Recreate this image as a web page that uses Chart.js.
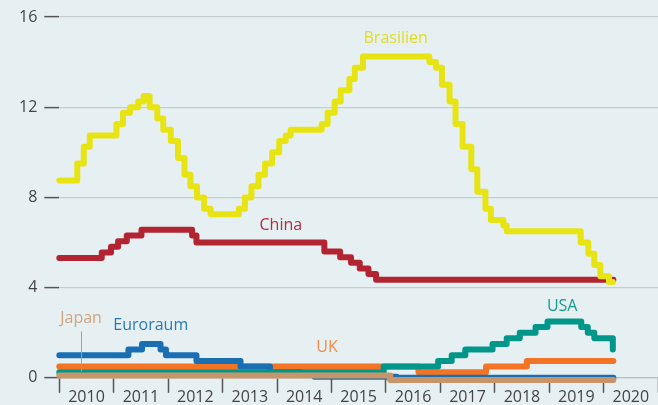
<!DOCTYPE html>
<html>
<head>
<meta charset="utf-8">
<script src="https://cdn.jsdelivr.net/npm/chart.js@4.4.1/dist/chart.umd.min.js"></script>
<style>
  html, body { margin: 0; padding: 0; background: #e6f0f2; }
  canvas { display: block; }
</style>
</head>
<body>
<canvas id="zinsChart" width="658" height="405"></canvas>
<script>
// Leitzinsen 2010-2020 (Stufen: Datum der Änderung als Dezimaljahr, neuer Satz)
const yearLabels = ['2010', '2011', '2012', '2013', '2014', '2015', '2016', '2017', '2018', '2019', '2020'];
const yTicks = [0, 4, 8, 12, 16];

const brazilDates = [2010.0, 2010.33, 2010.45, 2010.56, 2011.05, 2011.17, 2011.30, 2011.45, 2011.55, 2011.66, 2011.80, 2011.91,
    2012.05, 2012.18, 2012.30, 2012.41, 2012.53, 2012.66, 2012.78, 2013.30, 2013.41, 2013.53, 2013.66, 2013.78, 2013.91,
    2014.04, 2014.16, 2014.25, 2014.82, 2014.93, 2015.06, 2015.17, 2015.33, 2015.43, 2015.58, 2016.80, 2016.92,
    2017.03, 2017.17, 2017.28, 2017.41, 2017.57, 2017.68, 2017.83, 2017.93, 2018.16, 2018.22,
    2019.58, 2019.72, 2019.83, 2019.94, 2020.10, 2020.17];
const brazilRates = [8.75, 9.5, 10.25, 10.75, 11.25, 11.75, 12.0, 12.25, 12.5, 12.0, 11.5, 11.0,
    10.5, 9.75, 9.0, 8.5, 8.0, 7.5, 7.25, 7.5, 8.0, 8.5, 9.0, 9.5, 10.0,
    10.5, 10.75, 11.0, 11.25, 11.75, 12.25, 12.75, 13.25, 13.75, 14.25, 14.0, 13.75,
    13.0, 12.25, 11.25, 10.25, 9.25, 8.25, 7.5, 7.0, 6.75, 6.5,
    6.0, 5.5, 5.0, 4.5, 4.25, 4.25];

const chinaDates = [2010.0, 2010.78, 2010.95, 2011.08, 2011.24, 2011.51, 2012.44, 2012.52, 2014.87, 2015.16, 2015.36, 2015.52, 2015.68, 2015.82, 2020.18];
const chinaRates = [5.31, 5.56, 5.81, 6.06, 6.31, 6.56, 6.31, 6.0, 5.6, 5.35, 5.1, 4.85, 4.6, 4.35, 4.35];

const usaDates = [2010.0, 2015.96, 2016.96, 2017.21, 2017.46, 2017.96, 2018.22, 2018.46, 2018.75, 2018.97, 2019.59, 2019.71, 2019.83, 2020.17];
const usaRates = [0.25, 0.5, 0.75, 1.0, 1.25, 1.5, 1.75, 2.0, 2.25, 2.5, 2.25, 2.0, 1.75, 1.25];

const ukDates = [2010.0, 2016.6, 2017.84, 2018.59, 2020.18];
const ukRates = [0.5, 0.25, 0.5, 0.75, 0.75];

const euroDates = [2010.0, 2011.27, 2011.52, 2011.86, 2011.96, 2012.52, 2013.33, 2013.87, 2014.44, 2014.69, 2016.2, 2020.18];
const euroRates = [1.0, 1.25, 1.5, 1.25, 1.0, 0.75, 0.5, 0.25, 0.15, 0.05, 0.0, 0.0];

const japanDates = [2010.0, 2016.08, 2020.18];
const japanRates = [0.1, -0.1, -0.1];

const colors = {
    brazil: '#e8e414',
    china: '#b32432',
    japan: '#c8956a',
    usa: '#00968a',
    euro: '#1a6fb2',
    uk: '#f27424'
};

// Beschriftungen direkt an den Linien
const lineLabels = [
    { text: 'Brasilien', x: 2016.18, y: 15.03, color: '#e0dc22' },
    { text: 'China', x: 2014.07, y: 6.77, color: '#b32c3a' },
    { text: 'USA', x: 2019.24, y: 3.18, color: '#13998d' },
    { text: 'UK', x: 2014.92, y: 1.34, color: '#f5894a' },
    { text: 'Euroraum', x: 2011.68, y: 2.34, color: '#2a77b5' },
    { text: 'Japan', x: 2010.40, y: 2.63, color: '#cfa47f' }
];

function toPoints(dates, rates) {
    return dates.map((d, i) => ({ x: d, y: rates[i] }));
}

function series(label, dates, rates, color) {
    return {
        label: label,
        data: toPoints(dates, rates),
        borderColor: color,
        borderWidth: 6,
        stepped: true,
        pointRadius: 0,
        borderCapStyle: 'round',
        borderJoinStyle: 'round',
        clip: false
    };
}

const labelPlugin = {
    id: 'lineLabels',
    afterDatasetsDraw(chart) {
        const ctx = chart.ctx;
        const xs = chart.scales.x;
        const ys = chart.scales.y;
        ctx.save();
        ctx.font = '16px "Open Sans"';
        ctx.textAlign = 'center';
        ctx.textBaseline = 'middle';
        lineLabels.forEach(l => {
            ctx.fillStyle = l.color;
            ctx.fillText(l.text, xs.getPixelForValue(l.x), ys.getPixelForValue(l.y));
        });
        // Hinweislinie Japan
        const jx = Math.round(xs.getPixelForValue(2010.39)) + 0.5;
        ctx.strokeStyle = colors.japan;
        ctx.lineWidth = 1;
        ctx.beginPath();
        ctx.moveTo(jx, ys.getPixelForValue(2.05));
        ctx.lineTo(jx, ys.getPixelForValue(0.27));
        ctx.stroke();
        ctx.restore();
    }
};

const xTickValues = [];
for (let v = 2010; v <= 2021; v += 0.5) xTickValues.push(v);

new Chart(document.getElementById('zinsChart'), {
    type: 'line',
    data: {
        datasets: [
            series('Brasilien', brazilDates, brazilRates, colors.brazil),
            series('China', chinaDates, chinaRates, colors.china),
            series('Japan', japanDates, japanRates, colors.japan),
            series('USA', usaDates, usaRates, colors.usa),
            series('Euroraum', euroDates, euroRates, colors.euro),
            series('UK', ukDates, ukRates, colors.uk)
        ]
    },
    options: {
        responsive: false,
        animation: false,
        layout: { padding: { left: 12, top: 17, right: 0, bottom: 3 } },
        plugins: { legend: { display: false }, tooltip: { enabled: false } },
        scales: {
            x: {
                type: 'linear',
                min: 2010,
                max: 2021,
                afterBuildTicks: scale => { scale.ticks = xTickValues.map(v => ({ value: v })); },
                ticks: {
                    autoSkip: false,
                    maxRotation: 0,
                    padding: -5,
                    color: '#444',
                    font: { family: 'Open Sans', size: 16 },
                    callback: v => (v % 1 === 0.5 ? yearLabels[Math.floor(v) - 2010] : '')
                },
                grid: {
                    drawOnChartArea: false,
                    tickLength: 15,
                    tickWidth: 1.5,
                    tickColor: ctx => (ctx.tick && ctx.tick.value % 1 === 0 ? '#555' : 'rgba(0,0,0,0)')
                },
                border: { display: true, color: '#b9bfc3', width: 1.2 }
            },
            y: {
                min: 0,
                max: 16,
                afterBuildTicks: scale => { scale.ticks = yTicks.map(v => ({ value: v })); },
                ticks: {
                    padding: 7,
                    color: '#444',
                    font: { family: 'Open Sans', size: 16 }
                },
                grid: {
                    color: '#c6ccd0',
                    lineWidth: 1.2,
                    tickColor: '#555',
                    tickLength: 15,
                    tickWidth: 1.5
                },
                border: { display: false }
            }
        }
    },
    plugins: [labelPlugin]
});
</script>
</body>
</html>
